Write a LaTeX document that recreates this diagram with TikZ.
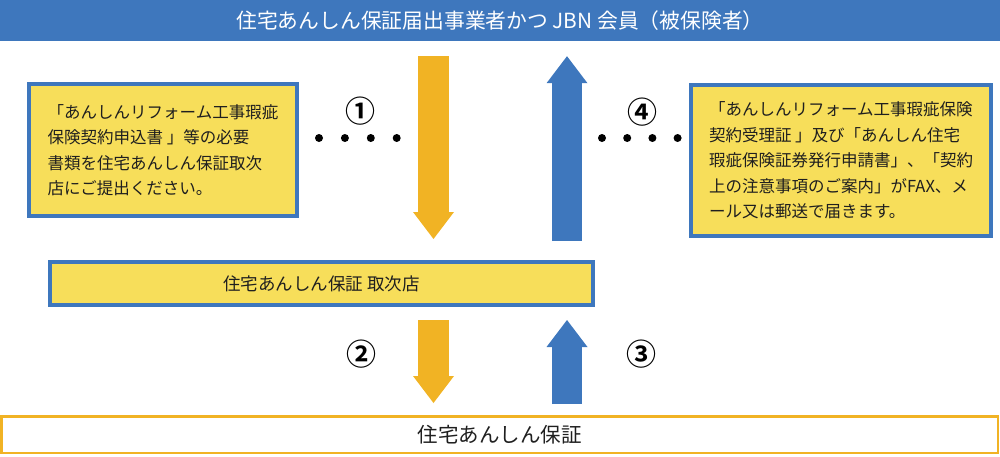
\documentclass[tikz,border=0pt]{standalone}
\usepackage{fontspec}
\setmainfont{Noto Sans CJK JP}[BoldFont={Noto Sans CJK JP Bold}]
\usepackage{xcolor}
\definecolor{jbnblue}{HTML}{3E77BD}
\definecolor{jbnyellow}{HTML}{F7DE5A}
\definecolor{jbnorange}{HTML}{F1B324}
\usetikzlibrary{arrows.meta,positioning}
\tikzset{
  nb/.style={align=left, text=black!88, inner sep=0pt},
  nyellow/.style={nb, fill=jbnyellow, draw=jbnblue, line width=4pt,
                  font=\fontsize{16.5}{25.5}\selectfont},
  nbanner/.style={nb, fill=jbnblue, text=white, minimum width=1000pt,
                  minimum height=41pt, font=\fontsize{20.8}{24}\selectfont},
  nwhite/.style={nb, fill=white, draw=jbnorange, line width=2.5pt,
                 font=\fontsize{20.5}{24}\selectfont},
  num/.style={font=\fontsize{30}{32}\selectfont\bfseries, text=black},
  fat/.style={line width=30.5pt, -{Triangle[width=41pt,length=27pt,line width=0pt]}},
  fatdown/.style={fat, draw=jbnorange},
  fatup/.style={fat, draw=jbnblue},
  leader/.style={line width=8pt, line cap=round, draw=black},
}

\begin{document}
\begin{tikzpicture}[x=1pt, y=-1pt]
  \useasboundingbox (0,0) rectangle (1000,456);
  \node[nbanner] (member) at (500,20.5) {住宅あんしん保証届出事業者かつ JBN 会員（被保険者）};
  \node[nyellow, minimum width=268pt, minimum height=132pt] (apply) at (163,150)
    {「あんしんリフォーム工事瑕疵\\保険契約申込書 」等の必要\\書類を住宅あんしん保証取次\\店にご提出ください。};
  \node[nyellow, minimum width=300pt, minimum height=151pt] (receipt) at (841,160.5)
    {「あんしんリフォーム工事瑕疵保険\\契約受理証 」及び「あんしん住宅\\瑕疵保険証券発行申請書」、「契約\\上の注意事項のご案内」がFAX、メ\\ール又は郵送で届きます。};
  \node[nyellow, minimum width=543pt, minimum height=43pt,
        font=\fontsize{17.5}{24}\selectfont] (agent) at (321.5,283.5)
    {住宅あんしん保証 取次店};
  \node[nwhite, minimum width=996.5pt, minimum height=36.5pt] (insurer) at (499.5,434.5)
    {住宅あんしん保証};
  \coordinate (xin) at (433.5,0);
  \coordinate (xout) at (567,0);
  % step numbers
  \node[num] (one) at (360,111) {①};
  \node[num] (two) at (361,354) {②};
  \node[num] (three) at (641,354) {③};
  \node[num] (four) at (642,112) {④};
  % dotted leaders
  \coordinate (dl1) at (319,138);
  \coordinate (dl2) at (397.5,138);
  \coordinate (dr1) at (602,138);
  \coordinate (dr2) at (678.5,138);
  \draw[leader, dash pattern=on 0pt off 25.9pt] (dl1) -- (dl2);
  \draw[leader, dash pattern=on 0pt off 25.2pt] (dr1) -- (dr2);
  % arrows
  \draw[fatdown, shorten <=15pt, shorten >=21pt] (member.south -| xin) -- (agent.north -| xin);
  \draw[fatup, shorten <=19pt, shorten >=15pt] (agent.north -| xout) -- (member.south -| xout);
  \draw[fatdown, shorten <=13pt, shorten >=12pt] (agent.south -| xin) -- (insurer.north -| xin);
  \draw[fatup, shorten <=11pt, shorten >=13pt] (insurer.north -| xout) -- (agent.south -| xout);
\end{tikzpicture}
\end{document}
